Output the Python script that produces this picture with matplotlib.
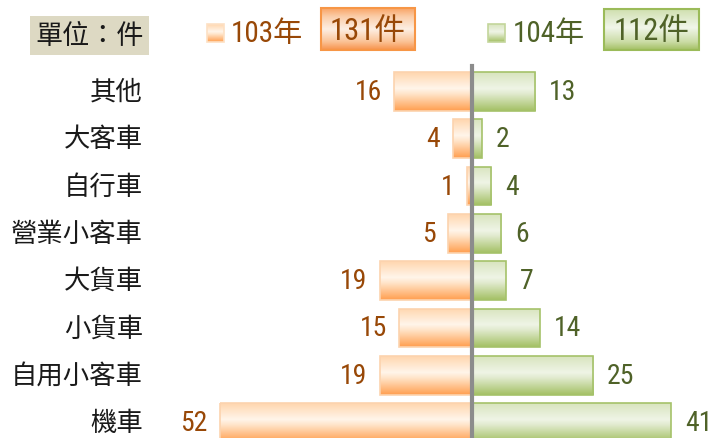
import numpy as np
import matplotlib
matplotlib.use("Agg")
import matplotlib.pyplot as plt
from matplotlib import font_manager
from matplotlib.colors import LinearSegmentedColormap
from matplotlib.patches import Rectangle
from matplotlib.transforms import blended_transform_factory

# data (top to bottom)
categories = ["其他", "大客車", "自行車", "營業小客車", "大貨車", "小貨車", "自用小客車", "機車"]
y103 = [16, 4, 1, 5, 19, 15, 19, 52]
y104 = [13, 2, 4, 6, 7, 14, 25, 41]
total103 = "131件"
total104 = "112件"
label103 = "103年"
label104 = "104年"
unit_label = "單位：件"

CJK = "Noto Sans CJK TC"
BROWN = "#984807"
OLIVE = "#4F6228"

# the reference uses a condensed face for digits; use one if it is installed
installed = {f.name for f in font_manager.fontManager.ttflist}
narrow = [n for n in ("Liberation Sans Narrow", "Arial Narrow", "Roboto Condensed")
          if n in installed]
if narrow:
    NUM = [narrow[0], CJK]
    num_size, box_size = 20, 22
else:
    NUM = ["Liberation Sans", CJK]
    num_size, box_size = 17, 19

orange_cm = LinearSegmentedColormap.from_list(
    "org", [(0, "#FFD6AE"), (0.42, "#FFF5EA"), (0.55, "#FFE6CC"), (1, "#FF9E4E")])
green_cm = LinearSegmentedColormap.from_list(
    "grn", [(0, "#D8E4BE"), (0.42, "#EFF4E6"), (0.55, "#E2EBD0"), (1, "#A3C063")])
orange_box_cm = LinearSegmentedColormap.from_list(
    "obox", [(0, "#F9A465"), (0.2, "#FBCDA8"), (0.5, "#FDEFE4"), (0.8, "#FBC396"), (1, "#F7924A")])
green_box_cm = LinearSegmentedColormap.from_list(
    "gbox", [(0, "#CFDFAE"), (0.45, "#F1F6EA"), (0.8, "#CBDCA6"), (1, "#A2BF62")])

grad = np.linspace(0, 1, 256).reshape(-1, 1)


def gradient_rect(ax, x0, x1, ytop, ybot, cmap, edge, lw=1.0, z=2):
    # gradient image clipped to a rectangle; ytop is the visually upper edge
    rect = Rectangle((x0, ytop), x1 - x0, ybot - ytop, facecolor="none",
                     edgecolor=edge, lw=lw, zorder=z + 0.1)
    ax.add_patch(rect)
    im = ax.imshow(grad, cmap=cmap, aspect="auto", origin="upper",
                   extent=(x0, x1, ybot, ytop), zorder=z, interpolation="bilinear")
    im.set_clip_path(rect)
    return rect


W, H = 713, 439
fig = plt.figure(figsize=(W / 100, H / 100), dpi=100)

# bar axes covering the whole figure
ax = fig.add_axes([0, 0, 1, 1])
px_per_unit = 4.85
center_px = 472
row0_px, row_step = 92.5, 47.3
bar_h = 0.82

y = np.arange(len(categories))
for i in range(len(categories)):
    gradient_rect(ax, -y103[i], 0, y[i] - bar_h / 2, y[i] + bar_h / 2,
                  orange_cm, "#FCD3AE", lw=1.2)
    gradient_rect(ax, 0, y104[i], y[i] - bar_h / 2, y[i] + bar_h / 2,
                  green_cm, "#A5C26A", lw=1.2)
    ax.annotate(str(y103[i]), (-y103[i], y[i]), xytext=(-9, 0),
                textcoords="offset points", ha="right", va="center",
                color=BROWN, fontsize=num_size, family=NUM)
    ax.annotate(str(y104[i]), (y104[i], y[i]), xytext=(10, 0),
                textcoords="offset points", ha="left", va="center",
                color=OLIVE, fontsize=num_size, family=NUM)

trans = blended_transform_factory(fig.transFigure, ax.transData)
for i, c in enumerate(categories):
    ax.text(143 / W, y[i], c, transform=trans, ha="right", va="center",
            fontsize=19, family=CJK, fontweight=300, color="#1A1A1A")

ax.set_xlim(-center_px / px_per_unit, (W - center_px) / px_per_unit)
ax.set_ylim((H - row0_px) / row_step, -row0_px / row_step)
ax.axvline(0, ymin=0, ymax=1 - 67 / H, color="#8C8C8C", lw=3, zorder=5)
ax.axis("off")

# header / legend in pixel coordinates
lg = fig.add_axes([0, 0, 1, 1])
lg.patch.set_alpha(0)

lg.add_patch(Rectangle((30, 17), 119, 39, facecolor="#DDD9C3", edgecolor="none"))
lg.text(89.5, 37, unit_label, ha="center", va="center", fontsize=19.5,
        family=CJK, fontweight=300, color="#1A1A1A")

gradient_rect(lg, 207, 224, 25, 43, orange_cm, "#FDE0C4", lw=1.2)
lg.text(231, 34, label103, ha="left", va="center", fontsize=num_size + 1,
        family=NUM, color=BROWN)
gradient_rect(lg, 321, 415, 9, 51, orange_box_cm, "#F79646", lw=1.5)
lg.text(368, 31, total103, ha="center", va="center", fontsize=box_size,
        family=NUM, color=BROWN)

gradient_rect(lg, 488, 505, 25, 43, green_cm, "#C3D69B", lw=1.2)
lg.text(513, 34, label104, ha="left", va="center", fontsize=num_size + 1,
        family=NUM, color=OLIVE)
gradient_rect(lg, 604, 699, 10, 51, green_box_cm, "#9BBB59", lw=1.5)
lg.text(651.5, 31, total104, ha="center", va="center", fontsize=box_size,
        family=NUM, color=OLIVE)
lg.set_xlim(0, W)
lg.set_ylim(H, 0)
lg.axis("off")

fig.savefig("out.png", dpi=100)
